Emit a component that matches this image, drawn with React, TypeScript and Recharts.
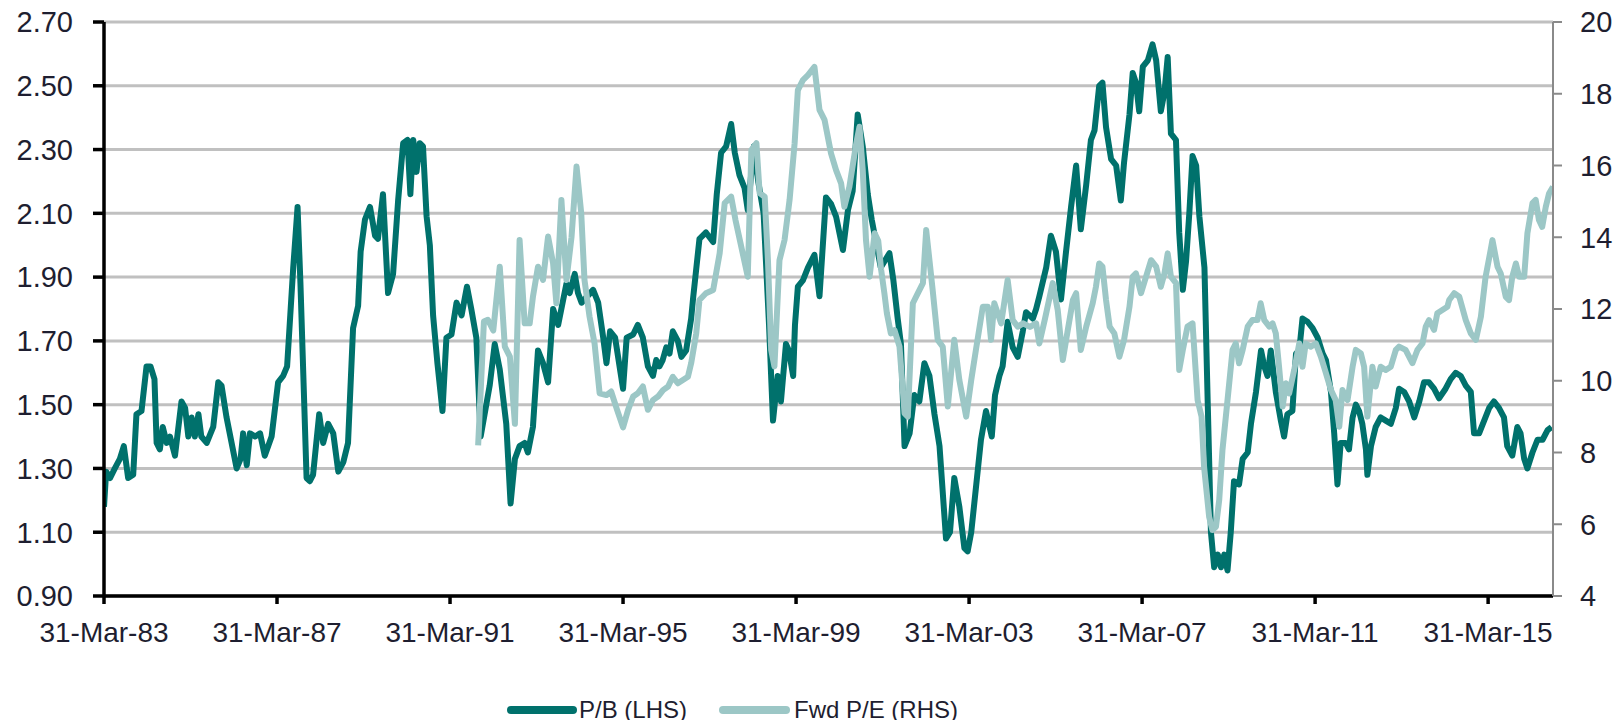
import React from "react";
import { LineChart, Line, XAxis, YAxis, CartesianGrid, Legend } from "recharts";

// months since 31-Mar-83
const pbMonths = [0,0.6,1.7,3,4.4,5.5,6.7,8.1,9,10.4,11.8,12.9,14,14.6,15.5,16.3,17.4,18.3,19.7,21.5,22.5,23.4,24.3,25.2,26.2,27,28.5,30.3,31.7,32.6,34,35.4,36.8,37.9,38.6,39.6,40.5,41.9,43.3,44.6,46.5,48.3,49.7,50.8,52.5,53.7,54.5,56.2,57.1,58,59.7,60.8,62.2,63.6,65,66.4,67.7,69.1,70.5,71.2,72.4,73.8,75.2,76,77.4,78.8,80.2,81.6,83,84.2,85,85.8,86.7,87.6,88.5,89.5,90.4,91.3,92.5,93.9,95,96.4,97.8,99.2,100.7,101.9,103.3,104.5,107,108.4,109.8,111.6,112.8,114,115.3,116.7,117.6,119,120.4,121.8,123.2,124.6,126,128.3,129.2,130.6,131.5,132.5,135.7,137.1,138.5,139.4,140.4,141.8,144,145,146.8,148.1,149.5,150.9,152.3,153.2,154.1,155,156,156.9,157.8,159.2,160.2,161.5,162.9,163.4,165.2,167,169,170,171.2,172.6,174,175,176.3,177.7,178.6,180.3,181.5,183,184.5,185.6,186.9,187.8,189.2,190,191.2,191.7,192.5,193.9,195.3,197.1,198.5,200.3,201.7,203.1,205,206.4,207.7,209.1,210.5,211.9,213,215.5,217.9,219,220.2,221.1,222.1,223.5,224.8,226.2,227.6,229,230.4,231.8,233.6,234.7,235.9,237.3,238.7,239.6,240.6,242,243.3,244.7,246.3,247.2,248.4,249.3,250.7,252.1,253.5,254.9,255.8,257.7,258.6,259.5,261.4,262.7,264.1,265.5,266.9,268.3,269.7,271,272.5,273.8,274.8,276.1,277,278,279.4,280.8,282.1,283,284.5,285.4,286.3,287.2,288.2,289.6,290.9,291.9,293.2,294.2,295.1,296,297.4,298.3,299.3,300.2,301.1,302,303,303.9,305.3,306.2,307.1,308,309,309.9,310.8,311.7,312.6,313.5,314.9,315.9,317.3,318.2,319.6,321,321.9,322.8,323.7,325.1,326.5,327.4,328.3,329.7,330.7,331.6,332.5,333.9,335.3,336.7,338.1,339,340.4,341.3,342.2,343.1,344.5,345.4,346.4,347.3,348.2,349.1,350.1,350.5,351.5,352.8,354.2,355.6,357,358.4,359.3,360.7,362.1,363.5,364.9,366.2,367.6,369,370.4,372.2,373.6,375,376.4,377.8,379.2,380.1,381.5,382.9,384.3,385.6,387,388.4,389.3,390.7,392.1,393,394,394.9,396.3,397.7,399.1,400.5,401.6];
const pbValues = [1.18,1.29,1.27,1.30,1.33,1.37,1.27,1.28,1.47,1.48,1.62,1.62,1.58,1.38,1.36,1.43,1.38,1.40,1.34,1.51,1.49,1.40,1.46,1.40,1.47,1.40,1.38,1.43,1.57,1.56,1.46,1.38,1.30,1.33,1.41,1.31,1.41,1.40,1.41,1.34,1.40,1.57,1.59,1.62,1.93,2.12,1.88,1.27,1.26,1.28,1.47,1.38,1.44,1.41,1.29,1.32,1.38,1.74,1.81,1.98,2.08,2.12,2.03,2.02,2.16,1.85,1.91,2.14,2.32,2.33,2.16,2.33,2.23,2.32,2.31,2.09,2.0,1.78,1.63,1.48,1.71,1.72,1.82,1.78,1.87,1.80,1.71,1.40,1.56,1.69,1.61,1.44,1.19,1.33,1.37,1.38,1.35,1.43,1.67,1.63,1.57,1.80,1.75,1.88,1.85,1.91,1.85,1.82,1.86,1.82,1.71,1.63,1.73,1.71,1.55,1.71,1.72,1.75,1.71,1.62,1.59,1.64,1.62,1.64,1.68,1.66,1.73,1.70,1.65,1.67,1.77,1.83,2.02,2.04,2.01,2.16,2.29,2.31,2.38,2.29,2.22,2.18,2.11,2.31,2.20,2.10,1.75,1.45,1.59,1.51,1.69,1.67,1.59,1.75,1.87,1.89,1.93,1.97,1.84,2.15,2.13,2.09,1.985,2.11,2.17,2.41,2.31,2.16,2.08,1.93,1.975,1.89,1.77,1.69,1.37,1.41,1.53,1.51,1.63,1.59,1.47,1.37,1.08,1.10,1.27,1.18,1.05,1.04,1.10,1.25,1.39,1.48,1.40,1.53,1.59,1.62,1.76,1.68,1.65,1.73,1.79,1.77,1.80,1.84,1.93,2.03,1.98,1.83,1.98,2.12,2.25,2.05,2.19,2.33,2.36,2.50,2.51,2.37,2.27,2.25,2.14,2.26,2.41,2.54,2.51,2.42,2.56,2.58,2.63,2.58,2.42,2.48,2.59,2.35,2.33,2.04,1.86,1.95,2.10,2.28,2.25,2.09,1.93,1.51,1.10,0.99,1.03,0.99,1.03,0.98,1.10,1.26,1.25,1.33,1.35,1.44,1.54,1.67,1.62,1.59,1.67,1.54,1.45,1.40,1.47,1.48,1.66,1.67,1.77,1.76,1.74,1.71,1.66,1.64,1.54,1.41,1.25,1.38,1.38,1.36,1.46,1.50,1.48,1.44,1.36,1.28,1.37,1.43,1.46,1.45,1.44,1.49,1.55,1.54,1.51,1.46,1.51,1.57,1.57,1.55,1.52,1.55,1.58,1.60,1.59,1.56,1.54,1.41,1.41,1.45,1.49,1.51,1.49,1.46,1.37,1.34,1.43,1.41,1.33,1.30,1.35,1.39,1.39,1.42,1.43];

const peMonths = [103.8,105.4,106.5,108,109.8,111.2,112.6,114,115.3,116.7,118.1,119,120.4,121.8,123.2,124.6,125.5,126.9,128.3,129.7,131.1,132.4,133.3,134.7,136.1,137.5,139.4,140.7,142.3,144,145.4,146.8,148.1,149.5,150.9,152.3,153.7,155.1,156.5,157.8,159.2,160.6,162,162.9,164.3,165.2,167,169,170.8,172.2,174,175.2,176.6,178.6,179.6,181,181.9,183.3,184.2,185.1,186,187.4,188.8,190.2,191.6,192.5,193.9,195.3,197.1,198.5,199.9,201.7,203.1,204.5,205.4,206.8,208.7,209.6,210.5,211.4,212.4,213.8,214.8,215.6,216.5,217.2,218.3,219.3,220.7,222.1,223,224.4,225.8,227.2,228.1,229.9,231.3,232.7,234.1,235.9,237.3,239.2,240.6,241.9,243.8,245.2,246.1,247,248.9,250.7,252.1,253.5,255,256.9,258.6,259.5,261,263.2,264.6,266,267.4,268.8,269.7,271,272.5,274.3,275.2,276.1,277,278,279,280.3,281.7,283,284.5,285.4,286.3,287.7,289.1,290.5,291.9,293.2,294.2,295.1,296,297.4,298.3,299.3,300.6,302,303.4,304.5,305.2,306.6,307.5,308.5,309.4,310.3,311.7,313.1,314,314.9,315.9,317.3,318.6,320,320.9,321.9,323.3,324.2,325.1,326,327,327.9,328.8,330.2,331.6,332.5,333.4,334.8,336.2,337.6,339,340.4,341.7,342.7,343.6,345,346.4,347.3,348.7,349.6,350.5,351.9,352.8,354.2,355.6,357,358.4,359.3,361.1,363,364.4,365.8,366.7,367.6,369,369.9,371.3,372.7,373.2,374.6,376,377.8,379.2,380.6,382,383.3,384.7,385.2,386.6,387.5,388.9,389.8,390.7,391.7,392.6,394,394.9,396.3,397.2,398.1,399,400,400.9,402];
const peValues = [8.2,11.65,11.7,11.4,13.18,10.95,10.67,8.8,13.92,11.6,11.6,12.34,13.18,12.81,14.02,13.27,12.16,15.04,12.81,14.0,15.97,14.67,12.81,11.79,11.04,9.65,9.6,9.7,9.2,8.7,9.19,9.56,9.65,9.84,9.19,9.46,9.56,9.74,9.84,10.11,9.93,10.02,10.11,10.49,11.32,12.25,12.44,12.53,13.55,14.95,15.13,14.48,13.83,12.9,16.43,16.62,15.23,15.13,13.36,10.86,10.4,13.36,13.92,15.04,16.62,18.1,18.38,18.52,18.75,17.55,17.27,16.34,15.87,15.5,14.85,15.41,16.62,17.08,15.87,13.92,12.9,14.11,13.9,13.1,12.44,11.88,11.32,11.41,10.95,9.09,9.0,12.16,12.44,12.72,14.2,12.53,11.14,10.95,9.28,11.14,10.02,9.0,10.02,10.86,12.06,12.06,11.14,12.16,11.6,12.81,11.69,11.51,11.6,11.5,11.6,11.04,11.7,12.72,11.97,10.58,11.42,12.25,12.44,10.86,11.51,12.16,12.62,13.27,13.18,12.25,11.51,11.32,10.67,11.14,12.06,12.9,12.99,12.44,12.9,13.36,13.18,12.62,12.99,13.55,12.9,12.72,10.3,10.86,11.51,11.6,9.46,9.0,7.6,6.21,5.84,5.93,6.68,8.07,9.46,10.86,11.04,10.49,10.86,11.51,11.69,11.69,12.16,11.69,11.51,11.6,11.32,10.39,9.28,9.93,9.65,10.3,11.04,10.39,11.04,10.95,11.04,10.67,10.21,9.74,9.46,8.72,9.74,9.46,10.39,10.86,10.76,10.39,9.0,10.39,9.84,10.39,10.3,10.39,10.86,10.95,10.86,10.49,10.86,11.04,11.51,11.69,11.42,11.88,11.97,12.06,12.25,12.44,12.34,11.69,11.32,11.14,11.79,12.9,13.64,13.92,13.18,12.99,12.34,12.25,12.9,13.27,12.9,12.9,14.11,14.95,15.04,14.48,14.29,14.85,15.22,15.41];

const xTickMonths = [0, 48, 96, 144, 192, 240, 288, 336, 384];
const xTickLabels = ["31-Mar-83", "31-Mar-87", "31-Mar-91", "31-Mar-95", "31-Mar-99", "31-Mar-03", "31-Mar-07", "31-Mar-11", "31-Mar-15"];
const leftTicks = [0.9, 1.1, 1.3, 1.5, 1.7, 1.9, 2.1, 2.3, 2.5, 2.7];
const rightTicks = [4, 6, 8, 10, 12, 14, 16, 18, 20];
const seriesNames = ["P/B (LHS)", "Fwd P/E (RHS)"];

const pbData = pbMonths.map((m, i) => ({ m, pb: pbValues[i] }));
const peData = peMonths.map((m, i) => ({ m, pe: peValues[i] }));

const DARK = "#00716c";
const LIGHT = "#9cc7c6";
const TEXT = "#1e1e30";
const FONT = "'Liberation Sans', Arial, sans-serif";
const W = 1615;
const H = 720;

const LegendContent = () => (
  <div style={{ position: "relative", height: 20, width: W, fontFamily: FONT, fontSize: 24, color: TEXT, lineHeight: "20px" }}>
    <div style={{ position: "absolute", left: 507, top: 6, width: 70, height: 8, background: DARK, borderRadius: 4 }} />
    <div style={{ position: "absolute", left: 579, top: 0, whiteSpace: "nowrap" }}>{seriesNames[0]}</div>
    <div style={{ position: "absolute", left: 719, top: 6, width: 71, height: 8, background: LIGHT, borderRadius: 4 }} />
    <div style={{ position: "absolute", left: 794, top: 0, whiteSpace: "nowrap" }}>{seriesNames[1]}</div>
  </div>
);

export default function App() {
  const xTickStyle = { fill: TEXT, fontSize: 28, fontFamily: FONT };
  const yTickStyle = { fill: TEXT, fontSize: 29, fontFamily: FONT };
  return (
    <div style={{ marginTop: -8, marginLeft: -8, width: W, height: H }}>
      <LineChart width={W} height={H} margin={{ top: 22, right: 0, bottom: 0, left: 0 }}>
        <CartesianGrid yAxisId="left" vertical={false} stroke="#c0c0c0" strokeWidth={3} />
        <XAxis
          dataKey="m"
          type="number"
          domain={[0, 402]}
          ticks={xTickMonths}
          tickFormatter={(v: number) => xTickLabels[xTickMonths.indexOf(v)] ?? ""}
          height={104}
          tickSize={8}
          tickMargin={18}
          axisLine={{ stroke: "#000", strokeWidth: 3.5 }}
          tickLine={{ stroke: "#000", strokeWidth: 3.5 }}
          tick={xTickStyle}
          interval={0}
          allowDataOverflow
        />
        <YAxis
          yAxisId="left"
          domain={[0.9, 2.7]}
          ticks={leftTicks}
          tickFormatter={(v: number) => v.toFixed(2)}
          width={104}
          tickSize={11}
          tickMargin={20}
          axisLine={{ stroke: "#000", strokeWidth: 3.5 }}
          tickLine={{ stroke: "#000", strokeWidth: 3.5 }}
          tick={yTickStyle}
          interval={0}
          allowDataOverflow
        />
        <YAxis
          yAxisId="right"
          orientation="right"
          domain={[4, 20]}
          ticks={rightTicks}
          width={62}
          tickSize={9}
          tickMargin={18}
          axisLine={{ stroke: "#8a8a8a", strokeWidth: 2 }}
          tickLine={{ stroke: "#8a8a8a", strokeWidth: 2 }}
          tick={yTickStyle}
          interval={0}
          allowDataOverflow
        />
        <Legend verticalAlign="bottom" content={<LegendContent />} wrapperStyle={{ left: 0, width: W }} />
        <Line yAxisId="left" data={pbData} dataKey="pb" name={seriesNames[0]} type="linear" stroke={DARK} strokeWidth={6} dot={false} isAnimationActive={false} strokeLinejoin="round" />
        <Line yAxisId="right" data={peData} dataKey="pe" name={seriesNames[1]} type="linear" stroke={LIGHT} strokeWidth={6} dot={false} isAnimationActive={false} strokeLinejoin="round" />
      </LineChart>
    </div>
  );
}
